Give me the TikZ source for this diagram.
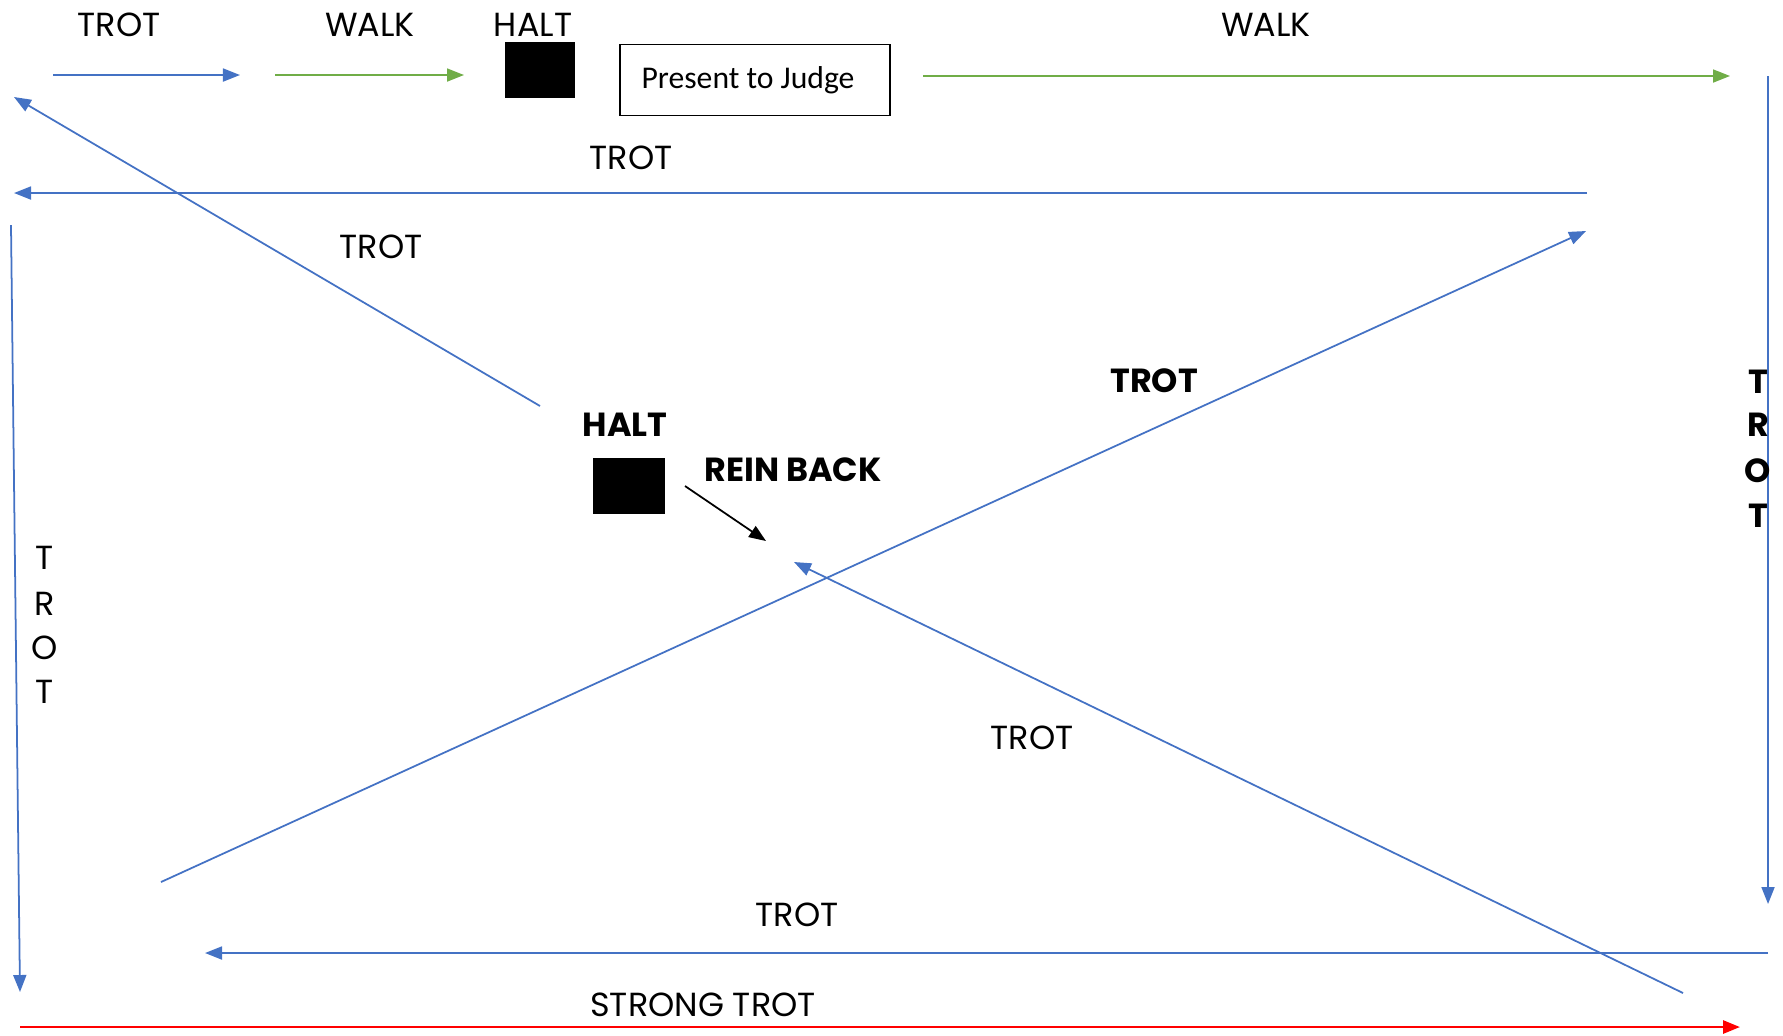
\documentclass[tikz,border=0pt]{standalone}
\usepackage{fontspec}
\setmainfont{Poppins}
\newfontfamily\judgefont{Carlito}
\usetikzlibrary{arrows.meta}
\definecolor{trotblue}{HTML}{4472C4}
\definecolor{walkgreen}{HTML}{70AD47}
\definecolor{strongred}{HTML}{FF0000}
\tikzset{
  gait/.style={font=\fontsize{9.5}{11}\selectfont,inner sep=0pt},
  boldgait/.style={gait,font=\fontsize{9.5}{11}\selectfont\bfseries},
  haltbox/.style={fill=black,draw=black,minimum width=0.69cm,minimum height=0.54cm,inner sep=0pt},
  judgebox/.style={draw=black,line width=0.5pt,minimum width=2.7cm,minimum height=0.71cm,font=\judgefont\fontsize{9}{11}\selectfont},
  path/.style={line width=0.5pt,-{Triangle[length=0.17cm,width=0.13cm]}},
}
\begin{document}
\begin{tikzpicture}[x=0.01cm,y=-0.01cm]
\useasboundingbox(0,0)rectangle(1783,1035);
% top line
\node[gait](trotA)at(119,25){TROT};
\node[gait](walkA)at(370,25){WALK};
\node[gait](haltA)at(533,25){HALT};
\node[gait](walkB)at(1266,25){WALK};
\node[haltbox](boxA)at(540,70){};
\node[judgebox](judge)at(755,80){Present to Judge\kern0.14cm};
\coordinate(a1s)at(53,75);\coordinate(a1e)at(240,75);
\coordinate(a2s)at(275,75);\coordinate(a2e)at(464,75);
\coordinate(a3s)at(923,76);\coordinate(a3e)at(1730,76);
\draw[path,trotblue](a1s)--(a1e);
\draw[path,walkgreen](a2s)--(a2e);
\draw[path,walkgreen](a3s)--(a3e);
% right side and top return
\coordinate(rs)at(1768,76);\coordinate(re)at(1768,904);
\draw[path,trotblue](rs)--(re);
\foreach \ltr/\yl in {T/382,R/425,O/471,T/516}{\node[boldgait]at(1758,\yl){\ltr};}
\node[gait](trotB)at(631,158){TROT};
\coordinate(ts)at(1587,193);\coordinate(te)at(14,193);
\draw[path,trotblue](ts)--(te);
% first diagonal
\node[gait](trotC)at(381,247){TROT};
\coordinate(d1s)at(540,406);\coordinate(d1e)at(14,97);
\draw[path,trotblue](d1s)--(d1e);
% left side
\coordinate(ls)at(11,225);\coordinate(le)at(20,992);
\draw[path,trotblue](ls)--(le);
\foreach \ltr/\yl in {T/558,R/604,O/648,T/692}{\node[gait]at(45,\yl){\ltr};}
% halt and rein back
\node[boldgait](haltB)at(625,425){HALT};
\node[haltbox,minimum width=0.70cm](boxB)at(629,486){};
\node[boldgait](rein)at(793,470){REIN BACK};
\coordinate(rbs)at(685,486);\coordinate(rbe)at(766,541);
\draw[path,black](rbs)--(rbe);
% long diagonals
\node[boldgait](trotD)at(1154,381){TROT};
\coordinate(d2s)at(161,882);\coordinate(d2e)at(1586,231);
\draw[path,trotblue](d2s)--(d2e);
\node[gait](trotE)at(1032,738){TROT};
\coordinate(d3s)at(1683,993);\coordinate(d3e)at(794,562);
\draw[path,trotblue](d3s)--(d3e);
% bottom
\node[gait](trotF)at(797,915){TROT};
\coordinate(bs)at(1768,953);\coordinate(be)at(205,953);
\draw[path,trotblue](bs)--(be);
\node[gait](strong)at(703,1005){STRONG TROT};
\coordinate(ss)at(20,1027);\coordinate(se)at(1740,1027);
\draw[path,strongred,line width=0.8pt](ss)--(se);
\end{tikzpicture}
\end{document}
